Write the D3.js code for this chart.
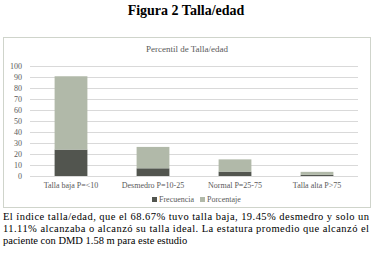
<!DOCTYPE html>
<html lang="es">
<head>
<meta charset="UTF-8" />
<title>Figura 2 Talla/edad</title>
<style>
  body { margin: 0; background: #fff; }
  svg text { font-family: "Liberation Serif", "Times New Roman", "DejaVu Serif", serif; }
</style>
</head>
<body>
<div id="chart"></div>
<script src="https://d3js.org/d3.v7.min.js"></script>
<script>
// data
var categories = ["Talla baja P=<10", "Desmedro P=10-25", "Normal P=25-75", "Talla alta P>75"];
var frecuencia = [24, 7, 4, 1];
var porcentaje = [66.67, 19.44, 11.11, 2.78];
var yTicks = [0, 10, 20, 30, 40, 50, 60, 70, 80, 90, 100];
var seriesNames = ["Frecuencia", "Porcentaje"];
var colors = ["#52554f", "#b1b9a9"];
var paragraph = [
  "El índice talla/edad, que el 68.67% tuvo talla baja, 19.45% desmedro y solo un",
  "11.11% alcanzaba o alcanzó su talla ideal. La estatura promedio que alcanzó el",
  "paciente con DMD 1.58 m para este estudio"
];

var W = 373, H = 260;
var svg = d3.select("#chart").append("svg").attr("width", W).attr("height", H);

// figure title
svg.append("text")
  .attr("x", 186).attr("y", 15)
  .attr("text-anchor", "middle")
  .style("font-size", "14px").style("font-weight", "bold")
  .text("Figura 2 Talla/edad");

// chart frame
svg.append("rect")
  .attr("x", 3.5).attr("y", 37.5).attr("width", 367).attr("height", 170)
  .attr("fill", "#fff").attr("stroke", "#cfd4cb");

svg.append("text")
  .attr("x", 187).attr("y", 52)
  .attr("text-anchor", "middle")
  .attr("fill", "#595959")
  .style("font-size", "9px")
  .text("Percentil de Talla/edad");

var x = d3.scaleBand().domain(categories).range([30, 358]).paddingInner(0.6).paddingOuter(0.3);
var y = d3.scaleLinear().domain([0, 100]).range([176, 66]);

// gridlines
svg.append("g").selectAll("line").data(yTicks).enter().append("line")
  .attr("x1", 30).attr("x2", 358)
  .attr("y1", function (d) { return Math.round(y(d)) + 0.5; })
  .attr("y2", function (d) { return Math.round(y(d)) + 0.5; })
  .attr("stroke", "#d9d9d9");

// y labels
svg.append("g").selectAll("text").data(yTicks).enter().append("text")
  .attr("x", 22).attr("y", function (d) { return y(d) + 3; })
  .attr("text-anchor", "end")
  .attr("fill", "#595959")
  .style("font-size", "8px")
  .text(function (d) { return d; });

// stacked bars
var rows = categories.map(function (c, i) {
  return { group: c, Frecuencia: frecuencia[i], Porcentaje: porcentaje[i] };
});
var stacked = d3.stack().keys(seriesNames)(rows);

svg.append("g").selectAll("g").data(stacked).enter().append("g")
  .attr("fill", function (d, i) { return colors[i]; })
  .selectAll("rect").data(function (d) { return d; }).enter().append("rect")
  .attr("x", function (d) { return x(d.data.group); })
  .attr("y", function (d) { return y(d[1]); })
  .attr("height", function (d) { return y(d[0]) - y(d[1]); })
  .attr("width", x.bandwidth());

// x labels
svg.append("g").selectAll("text").data(categories).enter().append("text")
  .attr("x", function (d) { return x(d) + x.bandwidth() / 2; })
  .attr("y", 188)
  .attr("text-anchor", "middle")
  .attr("fill", "#595959")
  .style("font-size", "8px")
  .text(function (d) { return d; });

// legend
var legend = svg.append("g").selectAll("g").data(seriesNames).enter().append("g")
  .attr("transform", function (d, i) { return "translate(" + (152 + i * 48) + ",202)"; });
legend.append("rect")
  .attr("x", 0).attr("y", -5).attr("width", 5).attr("height", 5)
  .attr("fill", function (d, i) { return colors[i]; });
legend.append("text")
  .attr("x", 7).attr("y", 0)
  .attr("fill", "#595959")
  .style("font-size", "8px")
  .text(function (d) { return d; });

// paragraph below the chart
svg.append("g").selectAll("text").data(paragraph).enter().append("text")
  .attr("x", 3)
  .attr("y", function (d, i) { return 220 + i * 12; })
  .attr("fill", "#000")
  .style("font-size", "10.5px")
  .each(function (d, i) {
    if (i < 2) d3.select(this).attr("textLength", 366).attr("lengthAdjust", "spacing");
  })
  .text(function (d) { return d; });
</script>
</body>
</html>
